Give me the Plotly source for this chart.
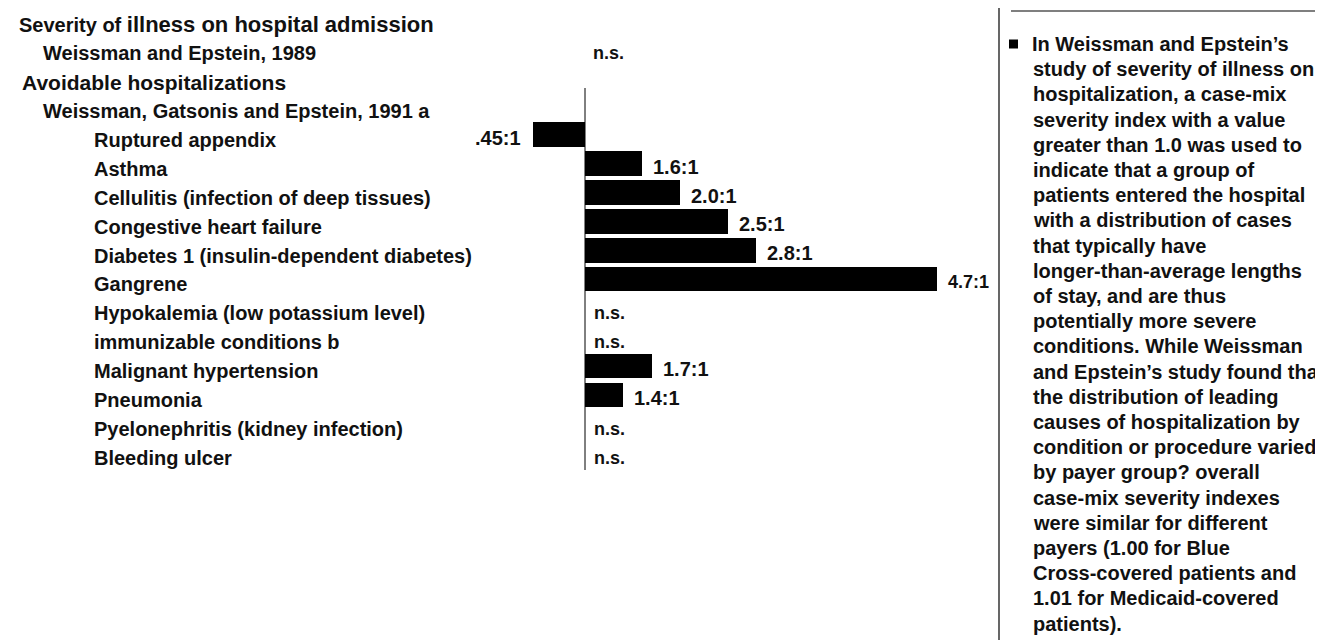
import plotly.graph_objects as go

# ---------------- data ----------------
headings = [
    "Severity of <span style='font-size:22px'>illness on hospital admission</span>",
    "Weissman and Epstein, 1989",
    "Avoidable hospitalizations",
    "Weissman, Gatsonis and Epstein, 1991 a",
]
heading_indent = [9, 33, 12, 33]
study_1989_result = "n.s."

categories = [
    "Ruptured appendix",
    "Asthma",
    "Cellulitis (infection of deep tissues)",
    "Congestive heart failure",
    "Diabetes 1 (insulin-dependent diabetes)",
    "Gangrene",
    "Hypokalemia (low potassium level)",
    "immunizable conditions b",
    "Malignant hypertension",
    "Pneumonia",
    "Pyelonephritis (kidney infection)",
    "Bleeding ulcer",
]
ratios = [0.45, 1.6, 2.0, 2.5, 2.8, 4.7, None, None, 1.7, 1.4, None, None]
ratio_labels = [".45:1", "1.6:1", "2.0:1", "2.5:1", "2.8:1", "4.7:1",
                "n.s.", "n.s.", "1.7:1", "1.4:1", "n.s.", "n.s."]

side_text = [
    "In Weissman and Epstein\u2019s",
    "study of severity of illness on",
    "hospitalization, a case-mix",
    "severity index with a value",
    "greater than 1.0 was used to",
    "indicate that a group of",
    "patients entered the hospital",
    "with a distribution of cases",
    "that typically have",
    "longer-than-average lengths",
    "of stay, and are thus",
    "potentially more severe",
    "conditions. While Weissman",
    "and Epstein\u2019s study found that",
    "the distribution of leading",
    "causes of hospitalization by",
    "condition or procedure varied",
    "by payer group? overall",
    "case-mix severity indexes",
    "were similar for different",
    "payers (1.00 for Blue",
    "Cross-covered patients and",
    "1.01 for Medicaid-covered",
    "patients).",
]

# ---------------- layout constants ----------------
W, H = 1323, 640
BASE_PX = 577.0      # pixel of ratio 1:1
X_SCALE = 95.0       # pixels per ratio unit
ROW0_PX = 126.7      # pixel centre of first category row
PITCH = 28.9         # pixels per row
TXT_DY = 0.18        # text rows sit slightly below bar centres
FONT = "Liberation Sans, Arial, Helvetica, sans-serif"
INK = "#111111"

def pxx(x):
    return x / W

def pyy(y):
    return 1 - y / H

rows = list(range(len(categories)))

fig = go.Figure()

bar_x = [(r - 1) if r is not None else None for r in ratios]
fig.add_trace(go.Bar(
    y=rows, x=bar_x, base=1, orientation="h",
    marker=dict(color="#000000", line=dict(width=0)),
    width=0.85, hoverinfo="skip", showlegend=False,
))

ann = []
# headings (rows -4..-1)
for k, (h, ind) in enumerate(zip(headings, heading_indent)):
    ann.append(dict(x=pxx(ind), xref="paper", y=k - 4 + TXT_DY, yref="y",
                    text=h, showarrow=False, xanchor="left", yanchor="middle",
                    font=dict(family=FONT, size=20 if k != 2 else 21, color=INK, weight="bold")))
ann.append(dict(x=1, xref="x", y=-3 + TXT_DY, yref="y", text=study_1989_result,
                showarrow=False, xanchor="left", yanchor="middle", xshift=6,
                font=dict(family=FONT, size=18, color=INK, weight="bold")))

# category labels
for i, c in zip(rows, categories):
    ann.append(dict(x=pxx(84), xref="paper", y=i + TXT_DY, yref="y", text=c,
                    showarrow=False, xanchor="left", yanchor="middle",
                    font=dict(family=FONT, size=20, color=INK, weight="bold")))

# value labels
for i, r, lab in zip(rows, ratios, ratio_labels):
    if r is None:
        ann.append(dict(x=1, xref="x", y=i + TXT_DY, yref="y", text=lab,
                        showarrow=False, xanchor="left", yanchor="middle", xshift=7,
                        font=dict(family=FONT, size=18, color=INK, weight="bold")))
    elif r < 1:
        ann.append(dict(x=r, xref="x", y=i, yref="y", text=lab, showarrow=False,
                        xanchor="right", yanchor="middle", xshift=-10, yshift=-3,
                        font=dict(family=FONT, size=20, color=INK, weight="bold")))
    else:
        ann.append(dict(x=r, xref="x", y=i, yref="y", text=lab, showarrow=False,
                        xanchor="left", yanchor="middle", xshift=9, yshift=-3,
                        font=dict(family=FONT, size=18 if r > 4 else 20, color=INK, weight="bold")))

# side text
LINE1 = 36.0
LSTEP = 25.2
for j, t in enumerate(side_text):
    ann.append(dict(x=pxx(1022 if j == 0 else 1023), xref="paper", y=pyy(LINE1 + j * LSTEP), yref="paper",
                    text=t, showarrow=False, xanchor="left", yanchor="middle",
                    font=dict(family=FONT, size=20, color=INK, weight="bold")))

shapes = [
    # baseline at 1:1
    dict(type="line", xref="x", yref="y", x0=1, x1=1,
         y0=(80 - ROW0_PX) / PITCH, y1=(462 - ROW0_PX) / PITCH,
         line=dict(color="#000000", width=1)),
    # side panel rules
    dict(type="line", xref="paper", yref="paper", x0=pxx(991), x1=pxx(991),
         y0=pyy(0), y1=pyy(636), line=dict(color="#000000", width=1.2)),
    dict(type="line", xref="paper", yref="paper", x0=pxx(1003), x1=1,
         y0=pyy(3), y1=pyy(3), line=dict(color="#000000", width=1.2)),
    # bullet square
    dict(type="rect", xref="paper", yref="paper", x0=pxx(1001), x1=pxx(1010),
         y0=pyy(LINE1 - 4.5), y1=pyy(LINE1 + 4.5),
         fillcolor="#000000", line=dict(width=0)),
]

fig.update_layout(
    width=W, height=H,
    margin=dict(l=0, r=0, t=0, b=0, pad=0),
    paper_bgcolor="white", plot_bgcolor="white",
    xaxis=dict(range=[1 - BASE_PX / X_SCALE, 1 + (W - BASE_PX) / X_SCALE],
               domain=[0, 1], visible=False, fixedrange=True),
    yaxis=dict(range=[(H - ROW0_PX) / PITCH, -ROW0_PX / PITCH],
               domain=[0, 1], visible=False, fixedrange=True),
    annotations=ann, shapes=shapes, bargap=0, showlegend=False,
)

fig.write_html("out.html", config={"displayModeBar": False})
